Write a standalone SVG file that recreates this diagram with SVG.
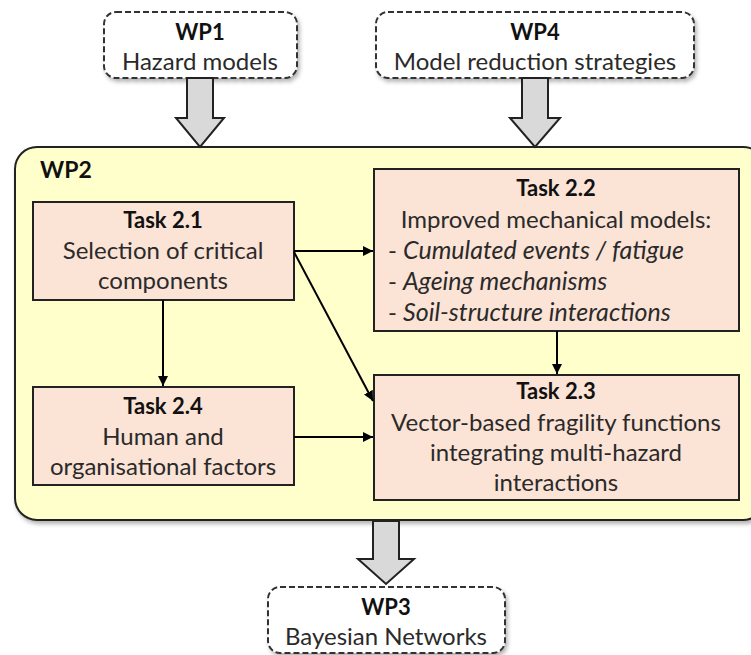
<svg xmlns="http://www.w3.org/2000/svg" width="751" height="655" viewBox="0 0 751 655">
<defs>
<filter id="sh" x="-10%" y="-10%" width="120%" height="130%">
<feDropShadow dx="2" dy="3" stdDeviation="2" flood-color="#000" flood-opacity="0.3"/>
</filter>
<marker id="ahm" viewBox="0 0 10 10" refX="10" refY="5" markerWidth="10" markerHeight="10" orient="auto" markerUnits="userSpaceOnUse">
<path d="M0,0 L10,5 L0,10 z" fill="#000"/>
</marker>
</defs>
<style>
text{font-family:Lato,"Open Sans",sans-serif;font-size:24px;fill:#2a2a2a;}
.b{font-weight:bold;fill:#111;font-size:22px;}
.c{text-anchor:middle;}
.i{font-style:italic;font-size:25px;}
.wp{fill:#fff;stroke:#333;stroke-width:2;stroke-dasharray:6,3;}
.task{fill:#fbe3d6;stroke:#222;stroke-width:2;}
.big{fill:#d9d9d9;stroke:#222;stroke-width:2;}
.con line{stroke:#000;stroke-width:2;marker-end:url(#ahm);}
</style>
<rect width="751" height="655" fill="#fff"/>

<g id="WP2">
<rect x="15" y="147" width="750" height="373" rx="22" fill="#ffffcc" stroke="#222" stroke-width="2" filter="url(#sh)"/>
<text x="40" y="178" class="b" style="font-size:23px">WP2</text>
</g>

<g id="WP1">
<rect class="wp" x="104" y="12" width="193" height="66" rx="12" filter="url(#sh)"/>
<text x="200" y="40" class="b c">WP1</text>
<text x="200" y="70" class="c">Hazard models</text>
</g>

<g id="WP4">
<rect class="wp" x="376" y="12" width="318" height="66" rx="12" filter="url(#sh)"/>
<text x="535" y="40" class="b c">WP4</text>
<text x="535" y="70" class="c">Model reduction strategies</text>
</g>

<g id="WP3">
<rect class="wp" x="268" y="587" width="237" height="66" rx="12" filter="url(#sh)"/>
<text x="386" y="615" class="b c">WP3</text>
<text x="386" y="645" class="c">Bayesian Networks</text>
</g>

<g id="T21">
<rect class="task" x="33" y="202" width="261" height="98"/>
<text x="163" y="228" class="b c">Task 2.1</text>
<text x="163" y="259" class="c">Selection of critical</text>
<text x="163" y="289" class="c">components</text>
</g>

<g id="T24">
<rect class="task" x="33" y="387" width="261" height="98"/>
<text x="163" y="414" class="b c">Task 2.4</text>
<text x="163" y="445" class="c">Human and</text>
<text x="163" y="475" class="c">organisational factors</text>
</g>

<g id="T22">
<rect class="task" x="374" y="169" width="365" height="162"/>
<text x="556" y="196" class="b c">Task 2.2</text>
<text x="556" y="228" class="c">Improved mechanical models:</text>
<text x="388" y="259">- <tspan class="i">Cumulated events / fatigue</tspan></text>
<text x="388" y="290">- <tspan class="i">Ageing mechanisms</tspan></text>
<text x="388" y="321">- <tspan class="i">Soil-structure interactions</tspan></text>
</g>

<g id="T23">
<rect class="task" x="374" y="375" width="365" height="125"/>
<text x="556" y="399" class="b c">Task 2.3</text>
<text x="556" y="431" class="c">Vector-based fragility functions</text>
<text x="556" y="461" class="c">integrating multi-hazard</text>
<text x="556" y="491" class="c">interactions</text>
</g>

<g id="connectors">
<path class="big" d="M187,78 L213,78 L213,118 L224,118 L200,147 L176,118 L187,118 Z"/>
<path class="big" d="M522,78 L548,78 L548,118 L560,118 L535,147 L510,118 L522,118 Z"/>
<path class="big" d="M373,521 L399,521 L399,559 L414,559 L386,584 L358,559 L373,559 Z"/>
<g class="con">
<line x1="294" y1="251" x2="373" y2="251"/>
<line x1="294" y1="252" x2="373" y2="401"/>
<line x1="163" y1="300" x2="163" y2="386"/>
<line x1="294" y1="437" x2="373" y2="437"/>
<line x1="557" y1="331" x2="557" y2="374"/>
</g>
</g>
</svg>
